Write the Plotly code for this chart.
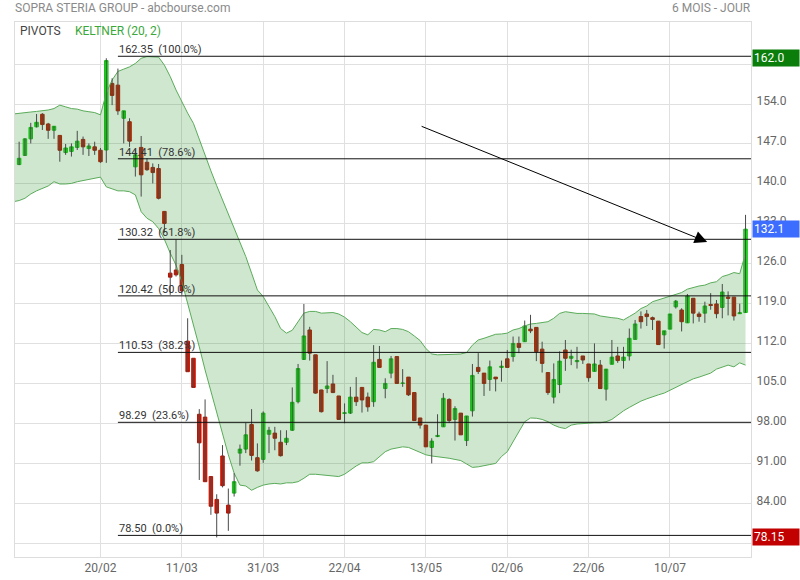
import plotly.graph_objects as go

# ---------------- data ----------------
jan = [30, 31]
feb = [3, 4, 5, 6, 7, 10, 11, 12, 13, 14, 17, 18, 19, 20, 21, 24, 25, 26, 27, 28]
mar = [2, 3, 4, 5, 6, 9, 10, 11, 12, 13, 16, 17, 18, 19, 20, 23, 24, 25, 26, 27, 30, 31]
apr = [1, 2, 3, 6, 7, 8, 9, 14, 15, 16, 17, 20, 21, 22, 23, 24, 27, 28, 29, 30]
may = [4, 5, 6, 7, 8, 11, 12, 13, 14, 15, 18, 19, 20, 21, 22, 25, 26, 27, 28, 29]
jun = [1, 2, 3, 4, 5, 8, 9, 10, 11, 12, 15, 16, 17, 18, 19, 22, 23, 24, 25, 26, 29, 30]
jul = [1, 2, 3, 6, 7, 8, 9, 10, 13, 14, 15, 16, 17, 20, 21, 22, 23, 24, 27, 28, 29]
months = [(1, jan), (2, feb), (3, mar), (4, apr), (5, may), (6, jun), (7, jul)]
all_dates = [f"2020-{m:02d}-{d:02d}" for m, days in months for d in days]
band_dates = all_dates            # band starts one session before the first candle
dates = all_dates[1:]             # candle sessions

opens = [143.4, 145.0, 147.9, 150.0, 152.2, 150.5, 149.4, 148.5, 145.5, 145.7,
         146.4, 147.8, 146.2, 146.5, 145.9, 145.95, 157.6, 157.3, 151.5, 150.9,
         143.0, 146.4, 143.8, 142.9, 142.7, 135.2, 124.4, 124.95, 125.9, 112.5,
         109.5, 99.7, 99.2, 88.8, 84.8, 92.4, 83.8, 85.9, 92.9, 93.6,
         97.9, 92.1, 91.8, 96.2, 96.4, 94.8, 94.8, 96.9, 101.9, 109.3,
         114.45, 110.1, 103.95, 104.2, 105.0, 102.9, 99.85, 99.9, 102.7, 104.4,
         102.7, 101.9, 109.3, 104.2, 106.9, 109.8, 105.1, 106.2, 103.5, 99.05,
         97.8, 93.9, 95.8, 97.5, 102.3, 98.8, 99.9, 95.1, 100.3, 107.9,
         106.9, 105.8, 106.2, 107.9, 109.4, 109.8, 112.1, 112.4, 114.6, 114.9,
         111.1, 107.0, 102.7, 104.9, 110.95, 109.5, 108.9, 109.9, 108.5, 107.2,
         108.3, 104.1, 108.45, 109.9, 109.1, 109.9, 112.8, 116.8, 117.25, 116.6,
         116.0, 113.6, 114.6, 118.5, 117.95, 115.7, 120.0, 117.25, 117.4, 118.9,
         119.0, 118.4, 120.2, 120.2, 117.3, 117.5]
highs = [147.4, 148.0, 150.7, 152.25, 152.4, 150.7, 150.1, 148.5, 147.0, 147.1,
         149.3, 148.3, 147.1, 147.4, 146.3, 162.0, 158.5, 160.2, 152.8, 151.5,
         145.95, 148.4, 144.5, 143.6, 143.5, 135.2, 128.45, 130.3, 127.6, 116.5,
         109.5, 100.6, 102.3, 88.8, 85.7, 94.3, 86.7, 89.4, 94.4, 98.2,
         100.6, 94.6, 100.2, 97.5, 97.5, 96.9, 96.9, 104.4, 108.5, 119.0,
         115.0, 110.1, 104.0, 109.0, 106.6, 102.9, 101.6, 104.5, 106.2, 104.4,
         103.5, 111.8, 111.65, 106.0, 109.9, 109.8, 107.6, 106.2, 103.5, 99.05,
         97.8, 95.5, 99.7, 103.4, 102.5, 101.1, 99.9, 99.4, 108.5, 110.4,
         106.9, 109.1, 106.2, 109.1, 110.95, 113.3, 113.3, 116.1, 117.1, 114.9,
         112.4, 107.0, 108.6, 110.7, 112.7, 111.0, 111.5, 109.9, 108.5, 112.1,
         109.2, 107.6, 112.7, 111.5, 111.5, 114.7, 116.2, 117.7, 117.95, 116.8,
         116.0, 114.3, 117.25, 119.7, 118.25, 120.75, 120.0, 117.65, 119.4, 120.9,
         119.7, 122.5, 121.2, 120.2, 119.05, 134.6]
lows = [143.3, 144.9, 147.1, 149.9, 149.45, 147.9, 147.9, 143.9, 145.1, 144.8,
        145.95, 145.1, 144.9, 145.1, 143.7, 143.7, 153.8, 152.1, 147.1, 146.5,
        141.3, 137.8, 142.3, 140.1, 137.3, 131.5, 120.6, 123.8, 120.6, 107.1,
        104.3, 88.2, 87.9, 82.1, 78.15, 86.9, 79.3, 85.3, 90.7, 92.9,
        91.6, 89.65, 91.2, 92.9, 93.4, 92.3, 94.3, 96.8, 101.6, 109.2,
        109.1, 103.3, 100.0, 103.4, 103.4, 98.7, 98.1, 99.75, 101.15, 100.0,
        100.15, 101.0, 107.9, 102.5, 106.0, 105.1, 104.5, 102.9, 98.6, 97.2,
        94.0, 91.1, 95.7, 97.5, 98.2, 95.1, 96.1, 94.15, 99.3, 106.75,
        102.9, 103.8, 103.7, 105.4, 107.9, 108.9, 110.4, 112.4, 113.9, 109.0,
        107.0, 103.1, 101.6, 103.4, 107.3, 108.3, 107.7, 108.5, 105.4, 107.2,
        104.2, 102.1, 108.45, 108.7, 107.7, 109.1, 112.8, 114.7, 115.15, 114.45,
        111.9, 111.2, 114.6, 118.2, 114.2, 115.7, 115.6, 115.9, 115.7, 118.0,
        116.5, 116.5, 117.0, 116.1, 117.3, 117.5]
closes = [144.5, 147.9, 149.9, 150.8, 150.4, 149.4, 150.1, 145.9, 146.3, 146.5,
          147.5, 146.5, 146.65, 145.9, 143.9, 161.6, 155.5, 152.8, 152.8, 147.5,
          145.1, 141.6, 142.5, 142.0, 137.5, 133.1, 123.7, 124.1, 121.3, 107.15,
          104.4, 94.7, 87.9, 83.6, 82.4, 87.2, 82.4, 87.9, 93.6, 96.1,
          92.5, 89.8, 99.9, 96.9, 95.5, 92.45, 95.5, 101.8, 107.7, 113.4,
          110.4, 103.4, 100.15, 104.65, 103.5, 98.8, 99.95, 102.7, 101.9, 102.2,
          101.0, 108.8, 107.9, 105.1, 109.4, 105.1, 105.15, 103.1, 98.6, 97.8,
          94.0, 95.0, 96.0, 102.5, 98.6, 100.7, 96.1, 99.4, 106.5, 107.2,
          105.1, 108.0, 105.9, 108.1, 107.9, 112.1, 111.4, 115.15, 114.3, 110.65,
          108.6, 103.5, 105.8, 109.0, 109.5, 109.85, 109.1, 109.2, 106.1, 108.5,
          104.2, 107.6, 109.7, 109.1, 109.7, 113.0, 115.5, 115.9, 116.8, 116.3,
          111.9, 114.3, 117.25, 119.5, 115.9, 120.4, 117.4, 116.8, 118.65, 118.75,
          117.3, 121.1, 120.0, 116.9, 117.45, 132.1]

keltner_upper = [152.25,
                 152.4, 152.5, 152.6, 152.7, 152.8, 152.95, 153.2, 153.8, 153.5, 153.2,
                 153.1, 152.8, 152.65, 152.5, 152.1, 155.9, 158.2, 159.7, 160.1, 160.5,
                 161.1, 162.0, 162.3, 162.3, 162.2, 160.8, 158.8, 156.45, 154.4, 152.4,
                 150.6, 147.7, 145.0, 142.3, 139.7, 137.2, 134.6, 132.2, 129.9, 127.3,
                 124.4, 121.45, 120.3, 118.5, 116.8, 114.7, 113.9, 114.4, 115.9, 117.4,
                 117.7, 117.7, 117.4, 117.5, 117.5, 117.25, 116.7, 115.9, 115.0, 114.0,
                 113.6, 114.55, 114.45, 114.15, 114.7, 114.7, 114.55, 114.15, 113.4, 112.6,
                 111.2, 110.25, 110.1, 110.1, 110.1, 110.2, 110.25, 110.5, 111.8, 112.7,
                 113.0, 113.3, 113.7, 113.75, 113.9, 114.45, 114.7, 115.15, 115.5, 115.6,
                 115.7, 115.9, 116.5, 117.35, 117.65, 117.5, 117.35, 117.35, 117.35, 117.25,
                 116.9, 116.7, 116.6, 116.5, 116.2, 116.8, 117.4, 118.2, 118.65, 119.4,
                 119.7, 120.0, 120.3, 120.6, 121.0, 121.6, 121.9, 122.15, 122.3, 122.7,
                 122.9, 123.8, 124.1, 124.5, 124.3, 127.9]
keltner_lower = [136.9,
                 137.1, 137.5, 138.25, 138.8, 139.25, 139.65, 140.4, 140.0, 140.0, 140.1,
                 140.4, 140.6, 140.8, 141.05, 141.2, 139.5, 139.1, 138.8, 138.8, 138.65,
                 138.1, 135.15, 134.0, 133.4, 132.2, 130.3, 127.9, 125.8, 122.9, 119.1,
                 115.6, 111.5, 107.45, 103.65, 99.9, 96.1, 92.6, 89.4, 87.3, 87.15,
                 86.4, 86.9, 87.3, 87.5, 87.6, 87.5, 87.7, 87.7, 87.9, 88.5,
                 89.2, 89.2, 89.1, 89.1, 88.9, 88.8, 89.2, 89.95, 90.65, 91.2,
                 91.2, 91.4, 92.3, 93.15, 93.6, 93.75, 94.0, 93.9, 93.45, 93.0,
                 92.6, 92.4, 92.3, 92.2, 92.0, 91.8, 91.6, 91.0, 90.4, 90.5,
                 90.65, 90.9, 91.1, 92.3, 93.15, 94.9, 96.8, 98.4, 99.05, 99.0,
                 98.8, 98.4, 97.8, 97.4, 97.2, 97.8, 98.0, 98.1, 98.2, 98.2,
                 98.2, 98.4, 98.8, 99.6, 100.3, 100.9, 101.5, 102.0, 102.4, 102.8,
                 103.1, 103.4, 103.9, 104.4, 104.8, 105.4, 105.9, 106.2, 106.5, 106.9,
                 107.6, 107.9, 108.3, 108.0, 108.7, 108.3]

fib_levels = [162.35, 144.41, 130.32, 120.42, 110.53, 98.29, 78.50]
fib_pcts = ["100.0%", "78.6%", "61.8%", "50.0%", "38.2%", "23.6%", "0.0%"]
fib_start_date = "2020-02-25"

tick_dates = ["2020-02-20", "2020-03-11", "2020-03-31", "2020-04-22",
              "2020-05-13", "2020-06-02", "2020-06-22", "2020-07-10"]
tick_labels = ["20/02", "11/03", "31/03", "22/04", "13/05", "02/06", "22/06", "10/07"]

# 77 and 161 grid lines carry no visible label (hidden by the value tags)
y_tickvals = [77, 84, 91, 98, 105, 112, 119, 126, 133, 140, 147, 154, 161]
y_ticktext = ["", "84.00", "91.00", "98.00", "105.0", "112.0", "119.0",
              "126.0", "133.0", "140.0", "147.0", "154.0", ""]

arrow_start = ("2020-05-12", 150.2)
arrow_end_pos = 118.4
arrow_end_value = 129.85

# ---------------- positions ----------------
pos = {d: i for i, d in enumerate(dates)}
xs = [pos[d] for d in dates]
band_x = [i - 1 for i in range(len(band_dates))]

x_range = [-0.71, 125.94]
y_range = [74.72, 168.35]

FONT = "Roboto"
fig = go.Figure()

# Keltner band
fig.add_trace(go.Scatter(x=band_x, y=keltner_upper, mode="lines",
                         line=dict(color="#5aab5a", width=1), hoverinfo="skip",
                         showlegend=False))
fig.add_trace(go.Scatter(x=band_x, y=keltner_lower, mode="lines",
                         line=dict(color="#5aab5a", width=1), fill="tonexty",
                         fillcolor="rgba(30,140,30,0.21)", hoverinfo="skip",
                         showlegend=False))

# wicks
wx, wy = [], []
for x, lo, hi in zip(xs, lows, highs):
    wx += [x, x, None]
    wy += [lo, hi, None]
fig.add_trace(go.Scatter(x=wx, y=wy, mode="lines", line=dict(color="#4a4a4a", width=1),
                         hoverinfo="skip", showlegend=False))

# bodies
body_hi = [max(o, c) for o, c in zip(opens, closes)]
body_lo = [min(o, c) for o, c in zip(opens, closes)]
fig.add_trace(go.Candlestick(
    x=xs, open=opens, high=body_hi, low=body_lo, close=closes,
    increasing=dict(fillcolor="#1ee21e", line=dict(color="#17bb17", width=1)),
    decreasing=dict(fillcolor="#da1500", line=dict(color="#b81200", width=1)),
    whiskerwidth=0, showlegend=False, hoverinfo="skip"))

# Fibonacci pivot lines
fib_x0 = pos[fib_start_date]
for lvl, pct in zip(fib_levels, fib_pcts):
    fig.add_shape(type="line", xref="x", yref="y", x0=fib_x0, x1=x_range[1],
                  y0=lvl, y1=lvl, line=dict(color="#111111", width=1), layer="above")
    fig.add_annotation(x=fib_x0, y=lvl, xref="x", yref="y", xanchor="left",
                       yanchor="bottom", text=f"{lvl:.2f}\u00a0\u00a0({pct})", showarrow=False,
                       font=dict(family=FONT, size=11, color="#333333"), yshift=-2, xshift=-1)

# arrow
fig.add_annotation(x=arrow_end_pos, y=arrow_end_value, ax=pos[arrow_start[0]], ay=arrow_start[1],
                   xref="x", yref="y", axref="x", ayref="y", text="", showarrow=True,
                   arrowhead=2, arrowsize=2.5, arrowwidth=1, arrowcolor="#000000")

# right-hand value tags
hi_val = max(highs)
lo_val = min(lows)
last_val = closes[-1]
for val, txt, col in [(hi_val, f"{hi_val:.1f}", "#0b7d0b"),
                      (last_val, f"{last_val:.1f}", "#3d6dff"),
                      (lo_val, f"{lo_val:.2f}", "#c20000")]:
    fig.add_annotation(x=1, xref="paper", y=val, yref="y", xanchor="left", xshift=1,
                       text=txt, showarrow=False, bgcolor=col, width=44, align="left",
                       borderpad=1, font=dict(family=FONT, size=12, color="#ffffff"))

# header texts
fig.add_annotation(x=0, y=1, xref="paper", yref="paper", xanchor="left", yanchor="bottom",
                   xshift=-2, yshift=5, text="SOPRA STERIA GROUP - abcbourse.com",
                   showarrow=False, font=dict(family=FONT, size=12, color="#8a8a8a"))
fig.add_annotation(x=1, y=1, xref="paper", yref="paper", xanchor="right", yanchor="bottom",
                   yshift=5, xshift=2, text="6 MOIS - JOUR", showarrow=False,
                   font=dict(family=FONT, size=12, color="#8a8a8a"))
fig.add_annotation(x=0, y=1, xref="paper", yref="paper", xanchor="left", yanchor="top",
                   xshift=3, yshift=0, text="PIVOTS", showarrow=False,
                   font=dict(family=FONT, size=12, color="#444444"))
fig.add_annotation(x=0, y=1, xref="paper", yref="paper", xanchor="left", yanchor="top",
                   xshift=58, yshift=0, text="KELTNER (20, 2)", showarrow=False,
                   font=dict(family=FONT, size=12, color="#3aa83a"))

fig.update_layout(
    width=800, height=580,
    margin=dict(l=15, r=49, t=22, b=23, autoexpand=False),
    paper_bgcolor="#ffffff", plot_bgcolor="#ffffff",
    boxgap=0.25, boxgroupgap=0.2,
    showlegend=False,
    font=dict(family=FONT, size=12, color="#666666"),
    xaxis=dict(range=x_range, tickmode="array", tickvals=[pos[d] for d in tick_dates],
               ticktext=tick_labels, showgrid=True, gridcolor="#e0e0e0", gridwidth=1,
               zeroline=False, showline=True, linecolor="#dddddd", mirror=True,
               rangeslider=dict(visible=False), ticks="", ticklabelstandoff=0,
               automargin=False,
               tickfont=dict(family=FONT, size=12, color="#666666")),
    yaxis=dict(range=y_range, side="right", tickmode="array", tickvals=y_tickvals,
               ticktext=y_ticktext, showgrid=True, gridcolor="#e0e0e0", gridwidth=1,
               zeroline=False, showline=True, linecolor="#dddddd", mirror=True,
               ticks="", automargin=False, ticklabelshift=-3, ticklabelstandoff=2,
               tickfont=dict(family=FONT, size=12, color="#666666")),
)

fig.write_html("out.html", config={"displayModeBar": False},
               post_script="document.body.style.margin='0px';document.body.style.overflow='hidden';")
